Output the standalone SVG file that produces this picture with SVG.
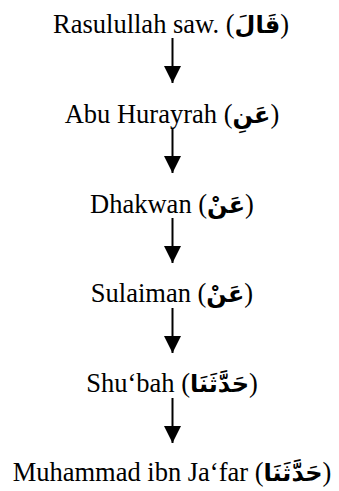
<svg xmlns="http://www.w3.org/2000/svg" width="339" height="491" viewBox="0 0 339 491">
<style>
.t{font-family:"Liberation Serif","Times New Roman",serif;font-size:26.5px;fill:#000;text-anchor:middle}
.ar{font-family:"DejaVu Sans","Noto Sans",sans-serif;font-weight:bold;font-size:24px}
.c{stroke:#000;stroke-width:2;fill:none}
</style>
<defs>
<marker id="ah" markerUnits="userSpaceOnUse" markerWidth="17" markerHeight="17" refX="17" refY="8.5" orient="auto" viewBox="0 0 17 17">
<path d="M0,0 L17,8.5 L0,17 Z" fill="#000"/>
</marker>
</defs>
<rect width="339" height="491" fill="#fff"/>
<g id="n1"><text class="t" x="171" y="33">Rasulullah saw. (<tspan class="ar">قَالَ</tspan>)</text></g>
<g id="n2"><text class="t" x="172" y="123">Abu Hurayrah (<tspan class="ar">عَنِ</tspan>)</text></g>
<g id="n3"><text class="t" x="172" y="213">Dhakwan (<tspan class="ar">عَنْ</tspan>)</text></g>
<g id="n4"><text class="t" x="172" y="302">Sulaiman (<tspan class="ar">عَنْ</tspan>)</text></g>
<g id="n5"><text class="t" x="172" y="392">Shu‘bah (<tspan class="ar">حَدَّثَنَا</tspan>)</text></g>
<g id="n6"><text class="t" x="172" y="481">Muhammad ibn Ja‘far (<tspan class="ar">حَدَّثَنَا</tspan>)</text></g>
<g id="connectors">
<path class="c" d="M172.5,38 V83" marker-end="url(#ah)"/>
<path class="c" d="M172.5,128 V173" marker-end="url(#ah)"/>
<path class="c" d="M172.5,218 V263" marker-end="url(#ah)"/>
<path class="c" d="M172.5,308 V353" marker-end="url(#ah)"/>
<path class="c" d="M172.5,398 V443" marker-end="url(#ah)"/>
</g>
</svg>
